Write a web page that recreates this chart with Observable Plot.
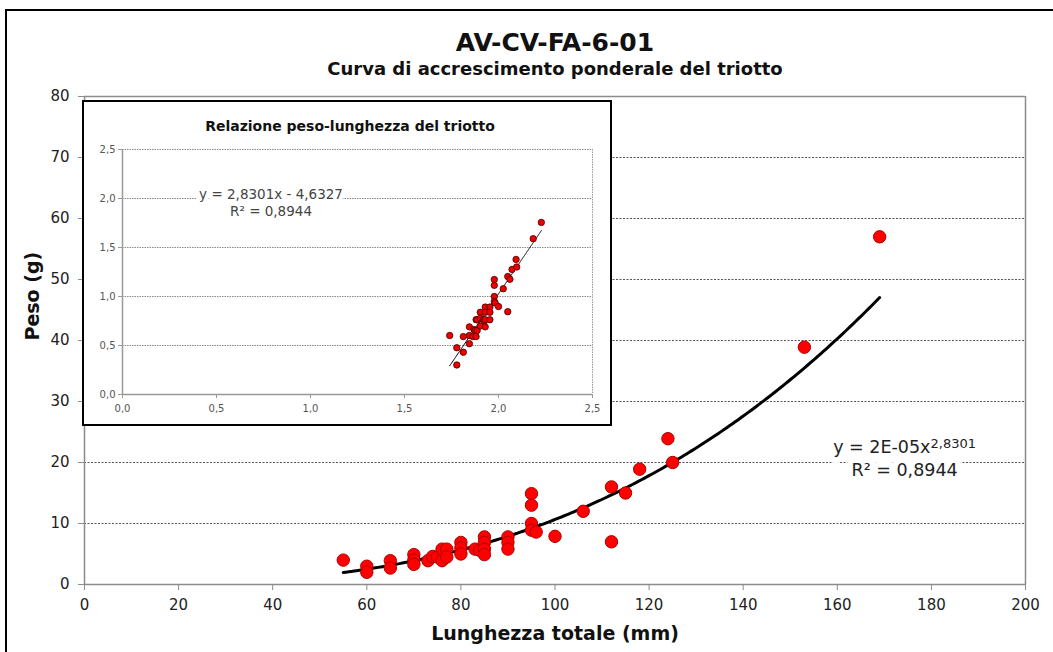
<!DOCTYPE html>
<html><head><meta charset="utf-8">
<script src="https://cdn.jsdelivr.net/npm/d3@7"></script>
<script src="https://cdn.jsdelivr.net/npm/@observablehq/plot@0.6"></script>
<style>
html,body{margin:0;padding:0;background:#fff;}
body{width:1053px;height:652px;overflow:hidden;position:relative;font-family:"DejaVu Sans",Verdana,sans-serif;color:#111;}
#frame{position:absolute;left:5px;top:9px;width:1070px;height:670px;border:2px solid #000;box-sizing:border-box;}
#main{position:absolute;left:0;top:0;}
.t{position:absolute;left:0;width:1110px;text-align:center;font-weight:bold;white-space:nowrap;}
#title{top:28px;font-size:25px;}
#subtitle{top:58px;font-size:18px;}
#inset{position:absolute;left:82px;top:100px;width:530px;height:326px;border:2px solid #000;box-sizing:border-box;background:#fff;}
#insetTitle{position:absolute;left:0;top:16px;width:532px;text-align:center;font-weight:bold;font-size:14px;color:#111;white-space:nowrap;}
#insetPlot{position:absolute;left:0;top:0;}
</style>
</head><body>
<div id="frame"></div>
<div id="main"></div>
<div id="title" class="t">AV-CV-FA-6-01</div>
<div id="subtitle" class="t">Curva di accrescimento ponderale del triotto</div>
<div id="inset"><div id="insetPlot"></div><div id="insetTitle">Relazione peso-lunghezza del triotto</div></div>
<script>
// ---- data ----
const lengths = [55,60,60,65,65,70,70,70,73,74,75,76,76,77,77,80,80,80,83,84,85,85,85,85,90,90,90,95,95,95,95,96,100,106,112,112,115,118,124,125,153,169];
const weights = [4,3,2,3.9,2.7,4.9,4,3.3,3.9,4.6,4.5,5.8,3.9,5.8,4.5,6.9,6,5,5.8,5.6,7.8,6.9,5.8,4.9,7.8,6.9,5.8,14.9,13,10,8.9,8.6,7.9,12,16,7,15,18.9,23.9,20,38.9,57];
const xTicks = [0,20,40,60,80,100,120,140,160,180,200];
const yTicks = [0,10,20,30,40,50,60,70,80];
const insetTicks = [0,0.5,1,1.5,2,2.5];
const slope = 2.8301, intercept = -4.6327;
const eqMain = "y = 2E-05x", eqExp = "2,8301", eqR2 = "R² = 0,8944";
const eqInset = "y = 2,8301x - 4,6327\nR² = 0,8944";

const pts = lengths.map((l, i) => ({l, w: weights[i]}));
const [lmin, lmax] = d3.extent(lengths);
const trend = d3.range(lmin, lmax + 0.001, (lmax - lmin) / 200).map(l => ({l, w: Math.pow(10, intercept) * Math.pow(l, slope)}));
const comma = d => d3.format(".1f")(d).replace(".", ",");

const main = Plot.plot({
  width: 1053, height: 652,
  marginLeft: 84, marginRight: 28, marginTop: 96, marginBottom: 68,
  style: {fontFamily: "DejaVu Sans, Verdana, sans-serif", fontSize: "15px", color: "#222", background: "transparent"},
  x: {domain: [0, 200]},
  y: {domain: [0, 80]},
  marks: [
    Plot.ruleY(yTicks.filter(d => d > 0 && d < 80), {stroke: "#555", strokeWidth: 1, strokeDasharray: "2,1.5"}),
    Plot.ruleY([80], {stroke: "#8c8c8c", strokeWidth: 1.5}),
    Plot.ruleX([200], {stroke: "#8c8c8c", strokeWidth: 1.5}),
    Plot.ruleY([0], {stroke: "#8c8c8c", strokeWidth: 1.5}),
    Plot.ruleX([0], {stroke: "#8c8c8c", strokeWidth: 1.5}),
    Plot.axisX({ticks: xTicks, tickSize: 6, tickPadding: 9, stroke: "#8c8c8c", fill: "#222", label: null}),
    Plot.axisY({ticks: yTicks, tickSize: 6, tickPadding: 9, stroke: "#8c8c8c", fill: "#222", label: null}),
    Plot.text(["Lunghezza totale (mm)"], {frameAnchor: "bottom", dy: 55, fontSize: 19, fontWeight: "bold", fill: "#111"}),
    Plot.text(["Peso (g)"], {frameAnchor: "left", dx: -52, rotate: -90, fontSize: 19, fontWeight: "bold", fill: "#111"}),
    Plot.line(trend, {x: "l", y: "w", stroke: "#000", strokeWidth: 3}),
    Plot.dot(pts, {x: "l", y: "w", r: 6.2, fill: "#ff0000", stroke: "#b00000", strokeWidth: 1}),
    Plot.text([eqMain], {x: 174.3, y: 22.4, text: d => d, fontSize: 17.5, fill: "#222", stroke: "white", strokeWidth: 12, paintOrder: "stroke"}),
    Plot.text([eqR2], {x: 174.3, y: 18.7, text: d => d, fontSize: 17.5, fill: "#222", stroke: "white", strokeWidth: 12, paintOrder: "stroke"})
  ]
});
document.getElementById("main").appendChild(main);
d3.select(main).selectAll("text").filter(function() { return this.textContent === eqMain; })
  .each(function() {
    d3.select(this).append("tspan").attr("dy", "-0.45em").attr("font-size", 13).attr("stroke", "none").text(eqExp);
  });

const inset = Plot.plot({
  width: 526, height: 322,
  marginLeft: 38, marginRight: 18, marginTop: 47, marginBottom: 30,
  style: {fontFamily: "DejaVu Sans, Verdana, sans-serif", fontSize: "10px", color: "#555", background: "transparent"},
  x: {domain: [0, 2.5]},
  y: {domain: [0, 2.5]},
  marks: [
    Plot.ruleY(insetTicks.filter(d => d > 0), {stroke: "#888", strokeWidth: 1, strokeDasharray: "1.5,1"}),
    Plot.ruleX([2.5], {stroke: "#999", strokeWidth: 1, strokeDasharray: "1.5,1"}),
    Plot.ruleY([0], {stroke: "#999", strokeWidth: 1.5}),
    Plot.ruleX([0], {stroke: "#999", strokeWidth: 1.5}),
    Plot.axisX({ticks: insetTicks, tickFormat: comma, tickSize: 4, tickPadding: 6, stroke: "#999", fill: "#555", label: null}),
    Plot.axisY({ticks: insetTicks, tickFormat: comma, tickSize: 4, tickPadding: 3, stroke: "#999", fill: "#555", label: null}),
    Plot.line(trend, {x: d => Math.log10(d.l), y: d => Math.log10(d.w), stroke: "#000", strokeWidth: 1}),
    Plot.dot(pts, {x: d => Math.log10(d.l), y: d => Math.log10(d.w), r: 3.2, fill: "#ee0000", stroke: "#400000", strokeWidth: 0.8}),
    Plot.text([eqInset], {x: 0.79, y: 1.965, text: d => d, fontSize: 13.5, lineHeight: 1.25, fill: "#444", stroke: "white", strokeWidth: 8, paintOrder: "stroke"})
  ]
});
document.getElementById("insetPlot").appendChild(inset);
</script>
</body></html>
